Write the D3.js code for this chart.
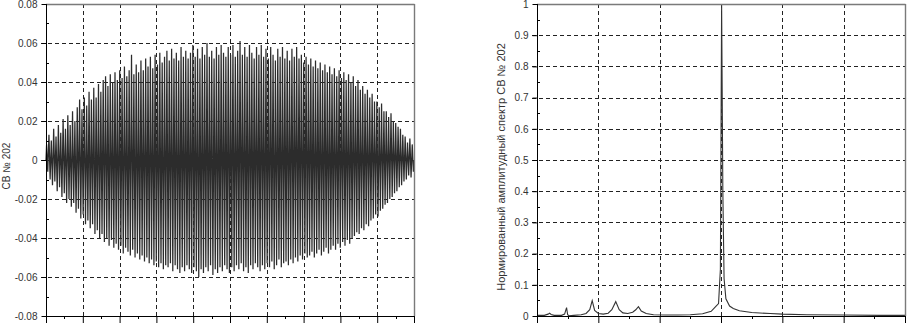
<!DOCTYPE html>
<html><head><meta charset="utf-8">
<script src="https://cdn.jsdelivr.net/npm/d3@7"></script>
<style>body{margin:0;background:#fff;overflow:hidden} svg{display:block;font-family:"Liberation Sans",Arial,sans-serif}</style>
</head><body><svg id="c" width="907" height="323"></svg>
<script>
// ---------- data ----------
const timeDomain = [0, 10];
const timeTicks = [0,1,2,3,4,5,6,7,8,9,10];
const timeMinorTicks = [0.5,1.5,2.5,3.5,4.5,5.5,6.5,7.5,8.5,9.5];
const ampTicks = [-0.08,-0.06,-0.04,-0.02,0,0.02,0.04,0.06,0.08];
const ampMinorTicks = [-0.07,-0.05,-0.03,-0.01,0.01,0.03,0.05,0.07];
// per-cycle maxima of the signal
const sigPeaks = [
0.008,0.013,0.010,0.016,0.012,
0.018,0.014,0.021,0.016,0.023,0.018,
0.025,0.020,0.027,0.031,0.026,0.032,
0.028,0.035,0.031,0.037,0.032,0.039,
0.035,0.041,0.043,0.038,0.044,0.040,
0.045,0.041,0.046,0.042,0.048,0.043,
0.046,0.054,0.044,0.049,0.045,0.051,
0.046,0.052,0.048,0.053,0.047,0.054,0.049,0.055,0.050,0.053,
0.056,0.051,0.057,0.052,0.055,0.051,0.058,0.053,0.056,0.052,
0.055,0.059,0.053,0.057,0.052,0.058,0.054,0.060,0.053,0.056,
0.052,0.058,0.054,0.059,0.055,0.053,0.058,0.054,0.059,0.053,
0.056,0.061,0.054,0.058,0.053,0.059,0.055,0.052,0.058,0.054,
0.059,0.053,0.057,0.052,0.058,0.054,0.051,0.057,0.053,0.058,
0.052,0.056,0.051,0.057,0.053,0.058,0.052,0.054,0.050,0.053,
0.049,0.052,0.048,0.051,0.047,0.050,0.046,0.049,0.045,0.048,
0.044,0.047,0.043,0.046,0.042,0.045,0.041,0.044,0.040,0.043,
0.038,0.041,0.036,0.038,0.034,0.036,0.032,0.034,0.030,0.030,
0.027,0.029,0.025,0.025,0.022,0.024,0.020,0.019,0.017,0.016,
0.013,0.012,0.009,0.011,0.008
];
// per-cycle minima of the signal
const sigTroughs = [
-0.006,-0.010,-0.013,-0.011,-0.016,
-0.014,-0.019,-0.017,-0.022,-0.020,-0.024,
-0.022,-0.027,-0.025,-0.030,-0.028,-0.033,
-0.031,-0.035,-0.033,-0.038,-0.036,-0.040,
-0.038,-0.042,-0.040,-0.044,-0.041,-0.045,
-0.043,-0.046,-0.044,-0.048,-0.045,-0.047,
-0.049,-0.046,-0.050,-0.048,-0.051,-0.049,
-0.052,-0.050,-0.053,-0.051,-0.054,-0.052,-0.055,-0.053,-0.056,-0.054,
-0.055,-0.053,-0.057,-0.054,-0.056,-0.058,-0.055,-0.057,-0.054,-0.056,
-0.058,-0.055,-0.057,-0.060,-0.056,-0.058,-0.055,-0.057,-0.054,-0.059,
-0.056,-0.058,-0.055,-0.057,-0.054,-0.056,-0.058,-0.055,-0.057,-0.054,
-0.056,-0.053,-0.057,-0.055,-0.058,-0.054,-0.056,-0.053,-0.055,-0.057,
-0.054,-0.056,-0.053,-0.055,-0.052,-0.056,-0.054,-0.051,-0.055,-0.053,
-0.052,-0.054,-0.051,-0.053,-0.050,-0.052,-0.049,-0.051,-0.048,-0.050,
-0.049,-0.047,-0.050,-0.048,-0.046,-0.049,-0.047,-0.045,-0.048,-0.046,
-0.044,-0.046,-0.043,-0.045,-0.042,-0.044,-0.041,-0.043,-0.040,-0.039,
-0.037,-0.038,-0.035,-0.036,-0.033,-0.034,-0.031,-0.030,-0.028,-0.029,
-0.026,-0.025,-0.023,-0.022,-0.020,-0.019,-0.017,-0.016,-0.014,-0.013,
-0.011,-0.010,-0.008,-0.009,-0.006
];

const freqDomain = [0, 30];
const freqTicks = [0,5,10,15,20,25,30];
const freqMinorTicks = [2.5,7.5,12.5,17.5,22.5,27.5];
const normTicks = [0,0.1,0.2,0.3,0.4,0.5,0.6,0.7,0.8,0.9,1];
const normMinorTicks = [0.05,0.15,0.25,0.35,0.45,0.55,0.65,0.75,0.85,0.95];
const specFreq = [0,0.6,0.9,1.03,1.15,1.4,2.0,2.25,2.41,2.5,2.6,3.0,3.6,4.0,4.3,4.5,4.7,5.0,5.4,5.8,6.1,6.42,6.7,7.0,7.4,7.8,8.05,8.27,8.5,8.9,9.5,10.5,11.5,12.5,13.5,14.2,14.6,14.8,14.95,15.05,15.15,15.25,15.4,15.7,16.0,16.5,17.5,19,20,22,25,28,30];
const specAmp  = [0.002,0.002,0.006,0.009,0.005,0.002,0.002,0.006,0.027,0.004,0.001,0.002,0.004,0.008,0.02,0.049,0.018,0.008,0.006,0.009,0.02,0.046,0.02,0.01,0.008,0.012,0.02,0.030,0.016,0.008,0.004,0.003,0.003,0.004,0.007,0.015,0.032,0.04,0.15,1.0,0.4,0.12,0.055,0.032,0.024,0.017,0.011,0.008,0.006,0.004,0.003,0.002,0.002];

const leftLabel = "СВ № 202";
const rightLabel = "Нормированный амплитудный спектр СВ № 202";

// ---------- drawing ----------
const svg = d3.select("#c");
const plotTop = 4, plotBottom = 316;

function panel(opts) {
  const g = svg.append("g");
  const x = d3.scaleLinear().domain(opts.xDomain).range([opts.x0, opts.x1]);
  const y = d3.scaleLinear().domain(opts.yDomain).range([plotBottom, plotTop]);
  const gridColor = "#222";
  g.selectAll(".hg").data(opts.yTicks.slice(1, -1)).join("line")
    .attr("x1", opts.x0 - 5).attr("x2", opts.x1)
    .attr("y1", d => Math.round(y(d)) + 0.5).attr("y2", d => Math.round(y(d)) + 0.5)
    .attr("stroke", gridColor).attr("stroke-dasharray", "4,3").attr("stroke-width", 1);
  g.selectAll(".vg").data(opts.xTicks.slice(1, -1)).join("line")
    .attr("y1", plotTop).attr("y2", plotBottom)
    .attr("x1", d => Math.round(x(d)) + 0.5).attr("x2", d => Math.round(x(d)) + 0.5)
    .attr("stroke", gridColor).attr("stroke-dasharray", "4,3").attr("stroke-width", 1);
  opts.draw(g, x, y);
  g.append("line").attr("x1", opts.x0).attr("x2", opts.x1 + 0.5).attr("y1", plotTop + 0.5).attr("y2", plotTop + 0.5)
    .attr("stroke", "#7a7a7a").attr("stroke-width", 1.6);
  g.append("line").attr("x1", opts.x1 + 0.5).attr("x2", opts.x1 + 0.5).attr("y1", plotTop).attr("y2", plotBottom)
    .attr("stroke", "#7a7a7a").attr("stroke-width", 1.4);
  const ya = g.append("g").attr("transform", `translate(${opts.x0 + 0.5},0)`)
    .call(d3.axisLeft(y).tickValues(opts.yTicks).tickSize(5).tickPadding(4).tickFormat(opts.yFmt));
  ya.select(".domain").attr("stroke", "#000").attr("d", `M0,${plotTop}V${plotBottom}`);
  ya.selectAll(".tick line").attr("stroke", "#000");
  ya.selectAll("text").attr("font-size", 10).attr("fill", "#333").attr("font-family", '"Liberation Sans",Arial,sans-serif');
  g.selectAll(".ymin").data(opts.yMinor).join("line")
    .attr("x1", opts.x0).attr("x2", opts.x0 + 3)
    .attr("y1", d => Math.round(y(d)) + 0.5).attr("y2", d => Math.round(y(d)) + 0.5)
    .attr("stroke", "#000");
  const xa = g.append("g").attr("transform", `translate(0,${plotBottom + 0.5})`)
    .call(d3.axisBottom(x).tickValues(opts.xTicks).tickSize(7).tickFormat(""));
  xa.select(".domain").attr("stroke", "#000").attr("d", `M${opts.x0},0H${opts.x1 + 1}`);
  xa.selectAll(".tick line").attr("stroke", "#000");
  g.selectAll(".xmin").data(opts.xMinor).join("line")
    .attr("x1", d => Math.round(x(d)) + 0.5).attr("x2", d => Math.round(x(d)) + 0.5)
    .attr("y1", plotBottom).attr("y2", plotBottom + 3)
    .attr("stroke", "#000");
  g.append("text").attr("transform", `translate(${opts.labelX},${opts.labelY}) rotate(-90)`)
    .attr("text-anchor", "middle").attr("font-size", opts.labelSize).attr("fill", "#333")
    .text(opts.label);
}

const fmtAmp = d => d === 0 ? "0" : d3.format(".2f")(d).replace("−", "-");
const fmtNorm = d => (d === 0 || d === 1) ? String(d) : d.toFixed(1);

panel({
  x0: 46, x1: 414, xDomain: timeDomain, yDomain: [-0.08, 0.08],
  xTicks: timeTicks, xMinor: timeMinorTicks, yTicks: ampTicks, yMinor: ampMinorTicks,
  yFmt: fmtAmp, label: leftLabel, labelX: 10, labelY: 166, labelSize: 10,
  draw: (g, x, y) => {
    const n = sigPeaks.length;
    const T = (timeDomain[1] - timeDomain[0]) / n;
    const pts = [[0, 0]];
    for (let i = 0; i < n; i++) {
      pts.push([(i + 0.25) * T, sigPeaks[i]]);
      pts.push([(i + 0.75) * T, sigTroughs[i]]);
    }
    pts.push([timeDomain[1], 0]);
    g.append("path").datum(pts)
      .attr("d", d3.line().x(d => x(d[0])).y(d => y(d[1])))
      .attr("fill", "none").attr("stroke", "#2c2c2c").attr("stroke-width", 1.25);
  }
});

panel({
  x0: 537, x1: 905, xDomain: freqDomain, yDomain: [0, 1],
  xTicks: freqTicks, xMinor: freqMinorTicks, yTicks: normTicks, yMinor: normMinorTicks,
  yFmt: fmtNorm, label: rightLabel, labelX: 505, labelY: 167, labelSize: 11,
  draw: (g, x, y) => {
    const pts = specFreq.map((f, i) => [f, specAmp[i]]);
    g.append("path").datum(pts)
      .attr("d", d3.line().x(d => x(d[0])).y(d => y(d[1])))
      .attr("fill", "none").attr("stroke", "#333").attr("stroke-width", 1.1);
  }
});
</script></body></html>
